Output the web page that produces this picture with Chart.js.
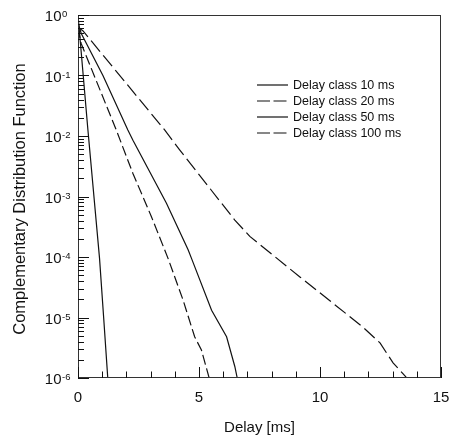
<!DOCTYPE html>
<html>
<head>
<meta charset="utf-8">
<script src="https://cdn.jsdelivr.net/npm/chart.js@4/dist/chart.umd.min.js"></script>
<style>
  html, body { margin: 0; padding: 0; background: #fff; }
  canvas { display: block; }
</style>
</head>
<body>
<canvas id="cdf" width="451" height="439"></canvas>
<script>
// Complementary CDF of packet delay per delay class
const seriesNames = ['Delay class 10 ms', 'Delay class 20 ms', 'Delay class 50 ms', 'Delay class 100 ms'];

const class10X = [0, 0.41, 0.89, 1.06, 1.23];
const class10Y = [1, 1.26e-2, 9.5e-5, 1.0e-5, 1.0e-6];

const class20X = [0, 0.13, 1.58, 2.27, 3.03, 3.72, 4.34, 4.82, 5.10, 5.42];
const class20Y = [0.6, 0.339, 1.26e-2, 2.4e-3, 4.68e-4, 9.5e-5, 1.95e-5, 4.8e-6, 2.9e-6, 1.0e-6];

const class50X = [0, 0.13, 1.03, 2.06, 2.27, 3.65, 4.55, 4.69, 5.52, 6.14, 6.48, 6.58];
const class50Y = [0.75, 0.5, 0.1, 1.26e-2, 8.5e-3, 7.8e-4, 1.32e-4, 9.5e-5, 1.32e-5, 4.8e-6, 1.55e-6, 1.0e-6];

const class100X = [0, 0.2, 3.58, 4.20, 6.48, 7.10, 9.17, 9.99, 11.78, 12.48, 13.02, 13.52, 13.58];
const class100Y = [0.63, 0.55, 1.26e-2, 5.9e-3, 4.07e-4, 2.19e-4, 4.68e-5, 2.57e-5, 6.9e-6, 3.8e-6, 1.78e-6, 1.07e-6, 1.0e-6];

const xTicks = [0, 5, 10, 15];
const yExponents = [0, -1, -2, -3, -4, -5, -6];
const xTitle = 'Delay [ms]';
const yTitle = 'Complementary Distribution Function';

const FONT = "'Liberation Sans', Arial, Helvetica, sans-serif";
const INK = '#111';

function pts(xs, ys) { return xs.map((x, i) => ({ x: x, y: ys[i] })); }

const lineStyles = [
  { dash: [] },
  { dash: [10, 4] },
  { dash: [] },
  { dash: [14, 5] }
];

const datasets = [
  pts(class10X, class10Y),
  pts(class20X, class20Y),
  pts(class50X, class50Y),
  pts(class100X, class100Y)
].map((d, i) => ({
  label: seriesNames[i],
  data: d,
  borderColor: INK,
  borderWidth: 1.2,
  borderDash: lineStyles[i].dash,
  pointRadius: 0,
  tension: 0,
  fill: false
}));

// Frame, inward ticks, tick labels, axis titles and the in-plot legend
const decorations = {
  id: 'decorations',
  afterDraw(chart) {
    const { ctx, chartArea: a, scales } = chart;
    const xs = scales.x, ys = scales.y;
    ctx.save();

    // plot frame
    ctx.strokeStyle = '#333';
    ctx.lineWidth = 1;
    ctx.strokeRect(Math.round(a.left) + 0.5, Math.round(a.top) + 0.5,
                   Math.round(a.right - a.left) - 1, Math.round(a.bottom - a.top) - 1);

    ctx.strokeStyle = INK;
    ctx.beginPath();
    // x ticks: major every 5, minor every 1
    for (let v = 0; v <= 15; v++) {
      const px = Math.round(xs.getPixelForValue(v)) + 0.5;
      const len = (v % 5 === 0) ? 11 : 6.5;
      ctx.moveTo(px, a.bottom);
      ctx.lineTo(px, a.bottom - len);
    }
    // y ticks: major per decade, minor 2..9
    for (let e = -6; e <= 0; e++) {
      for (let m = 1; m <= 9; m++) {
        const val = m * Math.pow(10, e);
        if (val > 1.0000001) continue;
        const py = Math.round(ys.getPixelForValue(val)) + 0.5;
        const len = (m === 1) ? 11 : 6;
        ctx.moveTo(a.left, py);
        ctx.lineTo(a.left + len, py);
      }
    }
    ctx.stroke();

    ctx.fillStyle = INK;
    // x tick labels
    ctx.font = '15px ' + FONT;
    ctx.textAlign = 'center';
    ctx.textBaseline = 'alphabetic';
    xTicks.forEach(v => ctx.fillText(String(v), xs.getPixelForValue(v), 401.5));

    // y tick labels as 10 with a raised exponent
    yExponents.forEach(e => {
      const py = ys.getPixelForValue(Math.pow(10, e));
      ctx.font = '15px ' + FONT;
      ctx.textAlign = 'right';
      ctx.fillText('10', 61.5, py + 6.2);
      ctx.font = '9.5px ' + FONT;
      ctx.textAlign = 'left';
      ctx.fillText(String(e), 62, py + 2.3);
    });

    // axis titles
    ctx.font = '15px ' + FONT;
    ctx.textAlign = 'center';
    ctx.fillText(xTitle, (a.left + a.right) / 2, 431.5);
    ctx.save();
    ctx.translate(25, 199);
    ctx.rotate(-Math.PI / 2);
    ctx.font = '16.5px ' + FONT;
    ctx.fillText(yTitle, 0, 0);
    ctx.restore();

    // legend
    const legendDash = [[], [13, 3.5], [], [13, 3.5]];
    ctx.font = '12.5px ' + FONT;
    ctx.textAlign = 'left';
    ctx.lineWidth = 1.2;
    seriesNames.forEach((name, i) => {
      const y = 85 + 16 * i;
      ctx.setLineDash(legendDash[i]);
      ctx.beginPath();
      ctx.moveTo(257, y);
      ctx.lineTo(288, y);
      ctx.stroke();
      ctx.setLineDash([]);
      ctx.fillText(name, 293, y + 4);
    });

    ctx.restore();
  }
};

new Chart(document.getElementById('cdf'), {
  type: 'line',
  data: { datasets: datasets },
  options: {
    responsive: false,
    animation: false,
    devicePixelRatio: 1,
    parsing: true,
    layout: { padding: { left: 78, right: 10, top: 15, bottom: 61 } },
    plugins: { legend: { display: false }, tooltip: { enabled: false } },
    scales: {
      x: { type: 'linear', min: 0, max: 15, display: false },
      y: { type: 'logarithmic', min: 1e-6, max: 1, display: false }
    }
  },
  plugins: [decorations]
});
</script>
</body>
</html>
